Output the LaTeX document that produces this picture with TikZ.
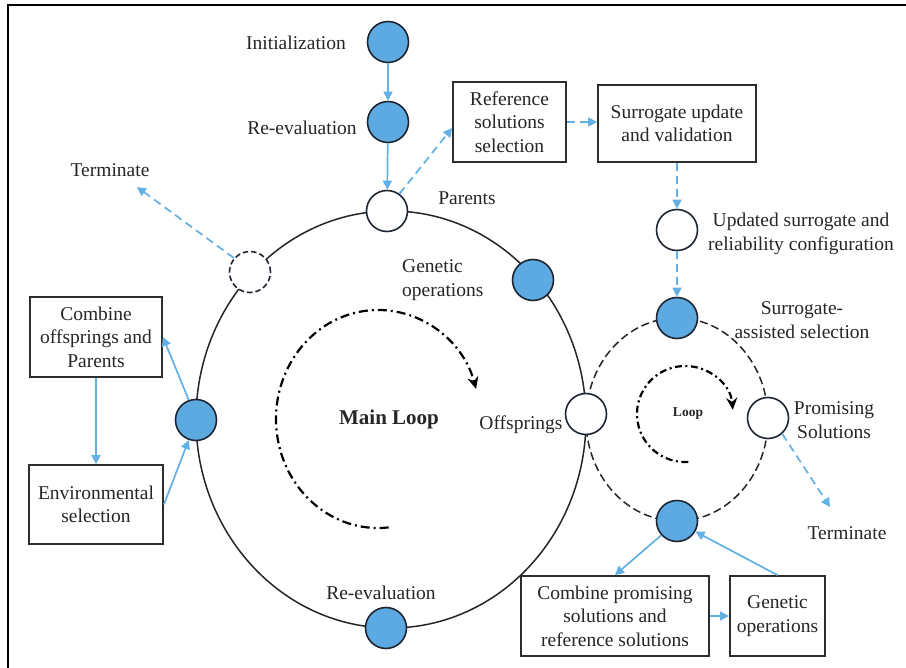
\documentclass[tikz,border=0pt]{standalone}
\usepackage{fontspec}
\setmainfont{Liberation Serif}
\usetikzlibrary{arrows.meta,calc}
\definecolor{bluefill}{RGB}{93,170,226}
\definecolor{bluearrow}{RGB}{98,176,228}
\definecolor{circline}{RGB}{30,38,50}
\definecolor{txt}{RGB}{38,38,38}
\definecolor{boxc}{RGB}{45,45,45}
\begin{document}
\begin{tikzpicture}[x=1pt,y=-1pt,
  lbl/.style={font=\fontsize{19.5}{23.5}\selectfont, text=txt, inner sep=0pt},
  bnode/.style={circle, draw=circline, line width=1.6pt, fill=bluefill, minimum size=41pt, inner sep=0pt},
  wnode/.style={circle, draw=circline, line width=1.6pt, fill=white, minimum size=41pt, inner sep=0pt},
  dnode/.style={wnode, dash pattern=on 5.5pt off 3pt},
  box/.style={draw=boxc, line width=1.8pt, fill=white, align=center, inner sep=0pt,
    font=\fontsize{19.5}{23.5}\selectfont, text=txt},
  barrow/.style={draw=bluearrow, line width=1.7pt, -{Triangle[length=9pt,width=9pt]}},
  bdash/.style={barrow, dash pattern=on 8pt off 5pt},
  mainline/.style={draw=black!85, line width=1.5pt},
  loopline/.style={draw=black, line width=2.2pt, dash pattern=on 9pt off 4pt on 2pt off 4pt,
    -{Stealth[length=12pt,width=11pt]}}
]
\useasboundingbox (0,0) rectangle (906,668);
\fill[white] (0,0) rectangle (906,668);
% frame
\draw[black, line width=1.5pt] (8,668) -- (8,5) -- (906,5);

% big and small loops
\draw[mainline] (391,419.5) ellipse [x radius=195pt, y radius=208.5pt];
\draw[mainline, dash pattern=on 8pt off 4pt] (677,419.5) ellipse [x radius=91pt, y radius=101.5pt];

% rotating dash-dot arrows
\coordinate (mlc) at (378,419);
\draw[loopline] (mlc) ++(-84:102pt and 109pt) arc[start angle=-84, end angle=-344, x radius=102pt, y radius=109pt];
\coordinate (slc) at (685,414);
\draw[loopline, dash pattern=on 7pt off 3.5pt on 2pt off 3.5pt] (slc) ++(-86:48pt) arc[start angle=-86, end angle=-355, radius=48pt];

% circle nodes
\node[bnode] (init) at (388,42) {};
\node[bnode] (reevA) at (388,122) {};
\node[wnode] (par) at (387,211) {};
\node[bnode] (genc) at (533,280) {};
\node[dnode] (dashc) at (250,272) {};
\node[bnode] (leftc) at (196,420) {};
\node[bnode] (reevB) at (386,628) {};
\node[wnode] (offc) at (586,414) {};
\node[wnode] (updc) at (677,230) {};
\node[bnode] (sasc) at (677,318) {};
\node[wnode] (promc) at (768,418) {};
\node[bnode] (lowc) at (677,521) {};

% labels
\node[lbl] (initT) at (296,43) {Initialization};
\node[lbl] (reevAT) at (302,128) {Re-evaluation};
\node[lbl] (parT) at (467,198) {Parents};
\node[lbl, align=left, anchor=west] (genT) at (402,280) {Genetic\\operations};
\node[lbl] (termLT) at (110,170) {Terminate};
\node[lbl, font=\fontsize{21}{25}\selectfont\bfseries] (mainT) at (389,419) {Main Loop};
\node[lbl] (offT) at (521,425) {Offsprings};
\node[lbl, font=\fontsize{13.5}{16}\selectfont\bfseries] (loopT) at (688,414) {Loop};
\node[lbl, align=center] (promT) at (834,420) {Promising\\Solutions};
\node[lbl, align=center] (sasT) at (802,320) {Surrogate-\\assisted selection};
\node[lbl, align=center] (updT) at (801,234) {Updated surrogate and\\reliability configuration};
\node[lbl] (termRT) at (847,533) {Terminate};
\node[lbl] (reevBT) at (381,593) {Re-evaluation};

% boxes
\node[box, minimum width=113pt, minimum height=80pt] (ref) at (509.5,122) {Reference\\solutions\\selection};
\node[box, minimum width=158pt, minimum height=77pt] (surr) at (677,123.5) {Surrogate update\\and validation};
\node[box, minimum width=132pt, minimum height=80pt] (combL) at (96,337) {Combine\\offsprings and\\Parents};
\node[box, minimum width=134pt, minimum height=79pt] (env) at (96,504.5) {Environmental\\selection};
\node[box, minimum width=188pt, minimum height=80pt] (combP) at (615,616) {Combine promising\\solutions and\\reference solutions};
\node[box, minimum width=95pt, minimum height=80pt] (genB) at (777.5,616) {Genetic\\operations};

% free ends
\coordinate (tl) at (137,187);
\coordinate (tr) at (830,507);

% solid blue arrows
\draw[barrow] (init) -- (reevA);
\draw[barrow] (reevA) -- (par);
\draw[barrow] (leftc.110) -- (combL.east);
\draw[barrow] (combL) -- (env);
\draw[barrow] (env.east) -- (leftc.250);
\draw[barrow] (lowc.222) -- (combP.north);
\draw[barrow] (genB.north) -- (lowc.330);
\draw[barrow] (combP) -- (genB);

% dashed blue arrows
\draw[bdash] (par.54) -- (ref.186);
\draw[bdash] (ref.east) -- (ref.east -| surr.west);
\draw[bdash] (surr) -- (updc);
\draw[bdash] (updc) -- (sasc);
\draw[bdash] (dashc.139) -- (tl);
\draw[bdash] (promc.312) -- (tr);
\end{tikzpicture}
\end{document}
